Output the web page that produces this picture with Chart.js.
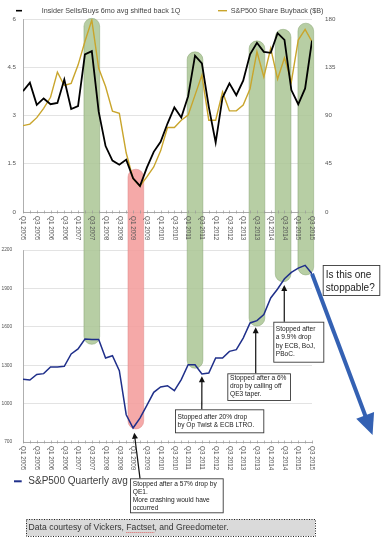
<!DOCTYPE html>
<html>
<head>
<meta charset="utf-8">
<script src="https://cdn.jsdelivr.net/npm/chart.js@4"></script>
<style>
html,body{margin:0;padding:0;background:#fff;}
#wrap{position:relative;width:383px;height:540px;overflow:hidden;background:#fff;}
canvas{position:absolute;left:0;}
#cA{top:0;}
#cB{top:240px;}
</style>
</head>
<body>
<div id="wrap">
<canvas id="cA" width="383" height="250"></canvas>
<canvas id="cB" width="383" height="300"></canvas>
</div>
<script>
// ---------------- DATA ----------------
const quarterLabels = ['Q1 2005','Q3 2005','Q1 2006','Q3 2006','Q1 2007','Q3 2007','Q1 2008','Q3 2008',
  'Q1 2009','Q3 2009','Q1 2010','Q3 2010','Q1 2011','Q3 2011','Q1 2012','Q3 2012','Q1 2013','Q3 2013',
  'Q1 2014','Q3 2014','Q1 2015','Q3 2015'];
// quarterly series, Q1 2005 .. Q3 2015 (43 quarters)
const insiderRatio = [3.76,4.02,3.33,3.53,3.35,3.39,4.12,3.20,3.29,4.90,5.00,3.12,2.05,1.60,1.47,1.63,1.05,0.81,1.38,1.87,
  2.18,2.75,3.25,2.94,3.60,4.86,4.62,3.27,2.16,3.56,4.00,3.63,4.08,4.90,5.26,4.98,4.95,5.56,5.35,3.79,3.35,3.84,5.33];
const buybackB = [80.5,82,88,96.7,107,130.5,118,120,137,159,179,134,117,94,92,55,31,24,32.7,42,
  57,78.8,78.8,85.6,90.3,109,127.7,85.6,85.6,112,94.3,94.3,99.7,115,149.5,126,152.6,124,143.8,121.4,160.4,170.4,158.8];
const sp500Avg = [1190,1184,1228,1234,1286,1286,1291,1388,1427,1505,1500,1500,1356,1374,1257,913,809,887,986,1088,
  1130,1140,1101,1187,1304,1304,1231,1239,1356,1356,1408,1421,1512,1630,1648,1695,1825,1895,1975,2025,2058,2080,2015];
const leftTicks = [0,1.5,3,4.5,6];
const rightTicks = [0,45,90,135,180];
const spTicks = [700,1000,1300,1600,1900,2200];
// highlight columns: quarter index, top (insider units), bottom (S&P units), kind
const hlQuarter = [10,16.4,25,34,37.8,41.1];
const hlTop = [6.02,1.33,4.98,5.32,5.68,5.87];
const hlBottom = [1463,802,1276,1606,1952,2005];
const hlKind = ['g','r','g','g','g','g'];
// callout targets (quarter index, S&P value)
const calloutTargetQ = [26,33.82,37.97,16.17];
const calloutTargetV = [1213,1596,1927,772];
const projectionEnd = {q:50.8, v:755};

// ---------------- STYLE ----------------
const FONT = "'Liberation Sans', Arial, Helvetica, sans-serif";
const GRID = '#dcdcdc', AXIS = '#9a9a9a', TXT = '#555';
const HL = {g:{fill:'rgba(170,197,148,0.85)',edge:'rgba(130,160,110,0.6)'}, r:{fill:'rgba(244,160,158,0.9)',edge:'rgba(220,130,130,0.6)'}};
const BAR_W = 15.7;
const OFFB = 240; // canvas B page offset

function xyData(arr){ return arr.map((v,i)=>({x:i,y:v})); }

function barPath(ctx, xc, yTop, yBot, roundTop, roundBot){
  const r = BAR_W/2;
  ctx.beginPath();
  if(roundTop){ ctx.moveTo(xc-r, yTop+r); ctx.arc(xc, yTop+r, r, Math.PI, 0); }
  else { ctx.moveTo(xc-r, yTop); ctx.lineTo(xc+r, yTop); }
  if(roundBot){ ctx.lineTo(xc+r, yBot-r); ctx.arc(xc, yBot-r, r, 0, Math.PI); }
  else { ctx.lineTo(xc+r, yBot); ctx.lineTo(xc-r, yBot); }
  ctx.closePath();
}
function barEdge(ctx, xc, yTop, yBot, roundTop, roundBot){
  const r = BAR_W/2;
  ctx.beginPath();
  // left side + ends, skipping cut edges
  if(roundTop){
    ctx.moveTo(xc-r, yBot - (roundBot? r:0));
    ctx.lineTo(xc-r, yTop+r); ctx.arc(xc, yTop+r, r, Math.PI, 0); ctx.lineTo(xc+r, yBot);
  } else {
    ctx.moveTo(xc-r, yTop); ctx.lineTo(xc-r, yBot-r); ctx.arc(xc, yBot-r, r, Math.PI, 0, true); ctx.lineTo(xc+r, yTop);
  }
}

function drawXLabels(ctx, xs, yAxis){
  ctx.save();
  ctx.fillStyle = TXT; ctx.font = '6.3px '+FONT;
  ctx.textAlign='left'; ctx.textBaseline='middle';
  quarterLabels.forEach((lab,k)=>{
    const x = xs.getPixelForValue(2*k);
    ctx.save(); ctx.translate(x, yAxis+4); ctx.rotate(Math.PI/2); ctx.fillText(lab,0,0); ctx.restore();
  });
  // small tick marks each quarter
  ctx.strokeStyle = AXIS; ctx.lineWidth = 0.7;
  for(let i=0;i<=42;i++){
    const x = Math.round(xs.getPixelForValue(i))+0.5;
    ctx.beginPath(); ctx.moveTo(x, yAxis-1.5); ctx.lineTo(x, yAxis+1.5); ctx.stroke();
  }
  ctx.restore();
}

function arrow(ctx,x1,y1,x2,y2,lw,hl,hw,color){
  const dx=x2-x1, dy=y2-y1, L=Math.hypot(dx,dy), ux=dx/L, uy=dy/L;
  const bx=x2-ux*hl, by=y2-uy*hl;
  ctx.save();
  ctx.strokeStyle=color; ctx.lineWidth=lw; ctx.lineCap='butt';
  ctx.beginPath(); ctx.moveTo(x1,y1); ctx.lineTo(bx+ux*1,by+uy*1); ctx.stroke();
  ctx.fillStyle=color; ctx.beginPath(); ctx.moveTo(x2,y2);
  ctx.lineTo(bx-uy*hw, by+ux*hw); ctx.lineTo(bx+uy*hw, by-ux*hw); ctx.closePath(); ctx.fill();
  ctx.restore();
}

function callout(ctx, x, y, w, h, lines, firstY, step, tx, fontPx){
  ctx.save();
  ctx.fillStyle='#fff'; ctx.fillRect(x,y,w,h);
  ctx.strokeStyle='#3a3a3a'; ctx.lineWidth=0.9; ctx.strokeRect(x+0.5,y+0.5,w,h);
  ctx.fillStyle='#222'; ctx.font=fontPx+'px '+FONT; ctx.textAlign='left'; ctx.textBaseline='middle';
  lines.forEach((l,i)=>ctx.fillText(l, tx, firstY+i*step));
  ctx.restore();
}

// ---------------- CHART A (top) ----------------
const pluginA = {
  id:'topDecor',
  beforeDatasetsDraw(chart){
    const ctx=chart.ctx, xs=chart.scales.x, ys=chart.scales.y;
    ctx.save();
    hlQuarter.forEach((q,k)=>{
      const xc=xs.getPixelForValue(q), yt=ys.getPixelForValue(hlTop[k]), yb=chart.height;
      const c=HL[hlKind[k]];
      barPath(ctx,xc,yt,yb,true,false); ctx.fillStyle=c.fill; ctx.fill();
      barEdge(ctx,xc,yt,yb,true,false); ctx.strokeStyle=c.edge; ctx.lineWidth=0.8; ctx.stroke();
    });
    ctx.restore();
  },
  afterDraw(chart){
    const ctx=chart.ctx, xs=chart.scales.x, ys=chart.scales.y, yr=chart.scales.y1;
    drawXLabels(ctx, xs, chart.chartArea.bottom);
    ctx.save();
    ctx.fillStyle=TXT; ctx.font='6.2px '+FONT; ctx.textBaseline='middle';
    ctx.textAlign='right';
    leftTicks.forEach(v=>ctx.fillText(String(v), 16, ys.getPixelForValue(v)));
    ctx.textAlign='left';
    rightTicks.forEach(v=>ctx.fillText(String(v), 325, yr.getPixelForValue(v)));
    // legend
    ctx.font='7.2px '+FONT; ctx.fillStyle='#444';
    ctx.strokeStyle='#000'; ctx.lineWidth=1.6;
    ctx.beginPath(); ctx.moveTo(16,10.7); ctx.lineTo(22,10.7); ctx.stroke();
    ctx.fillText('Insider Sells/Buys 6mo avg shifted back 1Q', 41.7, 10.7);
    ctx.strokeStyle='#c9a52c'; ctx.lineWidth=1.4;
    ctx.beginPath(); ctx.moveTo(218,10.7); ctx.lineTo(227,10.7); ctx.stroke();
    ctx.fillText('S&P500 Share Buyback ($B)', 230.7, 10.7);
    ctx.restore();
  }
};

new Chart(document.getElementById('cA'), {
  type:'line',
  data:{ datasets:[
    {label:'Insider Sells/Buys 6mo avg shifted back 1Q', data:xyData(insiderRatio), yAxisID:'y',
      borderColor:'#000', borderWidth:1.8, pointRadius:0, tension:0, fill:false},
    {label:'S&P500 Share Buyback ($B)', data:xyData(buybackB), yAxisID:'y1',
      borderColor:'#c9a52c', borderWidth:1.4, pointRadius:0, tension:0, fill:false}
  ]},
  options:{
    responsive:false, animation:false, devicePixelRatio:1,
    layout:{padding:{top:19,left:0,right:0,bottom:0}},
    plugins:{legend:{display:false}, tooltip:{enabled:false}},
    scales:{
      x:{type:'linear', min:0, max:42, ticks:{display:false, stepSize:1, maxTicksLimit:100},
         grid:{display:false}, border:{display:true, color:AXIS, width:0.8},
         afterFit(s){ s.height = 38; }},
      y:{position:'left', min:0, max:6, ticks:{display:false, stepSize:1.5},
         grid:{color:GRID, lineWidth:0.8, drawTicks:false}, border:{display:true, color:AXIS, width:0.8},
         afterFit(s){ s.width = 23; }},
      y1:{position:'right', min:0, max:180, ticks:{display:false, stepSize:45},
         grid:{display:false, drawTicks:false}, border:{display:false},
         afterFit(s){ s.width = 71; }}
    }
  },
  plugins:[pluginA]
});

// ---------------- CHART B (bottom) ----------------
const pluginB = {
  id:'bottomDecor',
  beforeDatasetsDraw(chart){
    const ctx=chart.ctx, xs=chart.scales.x, ys=chart.scales.y;
    ctx.save();
    hlQuarter.forEach((q,k)=>{
      const xc=xs.getPixelForValue(q), yt=250-OFFB, yb=ys.getPixelForValue(hlBottom[k]);
      const c=HL[hlKind[k]];
      barPath(ctx,xc,yt,yb,false,true); ctx.fillStyle=c.fill; ctx.fill();
      barEdge(ctx,xc,yt,yb,false,true); ctx.strokeStyle=c.edge; ctx.lineWidth=0.8; ctx.stroke();
    });
    ctx.restore();
  },
  afterDraw(chart){
    const ctx=chart.ctx, xs=chart.scales.x, ys=chart.scales.y;
    const P = y => y - OFFB;
    drawXLabels(ctx, xs, chart.chartArea.bottom);
    ctx.save();
    ctx.fillStyle=TXT; ctx.font='4.9px '+FONT; ctx.textBaseline='middle'; ctx.textAlign='right';
    spTicks.forEach(v=>ctx.fillText(String(v), 12.3, ys.getPixelForValue(v)));
    ctx.restore();

    // projection arrow
    const lastI = sp500Avg.length-1;
    arrow(ctx, xs.getPixelForValue(lastI), ys.getPixelForValue(sp500Avg[lastI]),
      xs.getPixelForValue(projectionEnd.q), ys.getPixelForValue(projectionEnd.v), 4, 21, 9.5, '#3461b3');

    // callouts
    callout(ctx,175,P(409.3),88.3,23,['Stopped after 20% drop','by Op Twist & ECB LTRO.'],P(416.7),8.3,177.5,6.6);
    arrow(ctx,201.8,P(409.3),xs.getPixelForValue(calloutTargetQ[0]),ys.getPixelForValue(calloutTargetV[0]),1.2,6,3,'#111');

    callout(ctx,227.3,P(373.3),62.7,26.7,['Stopped after a 6%','drop by calling off','QE3 taper.'],P(378),8.3,230,6.6);
    arrow(ctx,xs.getPixelForValue(calloutTargetQ[1]),P(373.3),xs.getPixelForValue(calloutTargetQ[1]),ys.getPixelForValue(calloutTargetV[1]),1.2,6,3,'#111');

    callout(ctx,273.3,P(321.7),50,40,['Stopped after','a 9.9% drop','by ECB, BoJ,','PBoC.'],P(329.3),8.3,275.8,6.6);
    arrow(ctx,xs.getPixelForValue(calloutTargetQ[2]),P(321.7),xs.getPixelForValue(calloutTargetQ[2]),ys.getPixelForValue(calloutTargetV[2]),1.2,6,3,'#111');

    callout(ctx,322.7,P(265),56.6,30,['Is this one','stoppable?'],P(275.5),12.3,325.8,10);

    callout(ctx,130,P(478.3),92.7,34,['Stopped after a 57% drop by','QE1.','More crashing would have','occurred'],P(484.2),8.1,132.8,6.6);
    arrow(ctx,140,P(478.3),xs.getPixelForValue(calloutTargetQ[3]),ys.getPixelForValue(calloutTargetV[3]),1.2,6,3,'#111');

    // legend
    ctx.save();
    ctx.strokeStyle='#1f2f8a'; ctx.lineWidth=2;
    ctx.beginPath(); ctx.moveTo(14,P(481.3)); ctx.lineTo(21.7,P(481.3)); ctx.stroke();
    ctx.fillStyle='#3c3c3c'; ctx.font='10px '+FONT; ctx.textAlign='left'; ctx.textBaseline='middle';
    ctx.fillText('S&P500 Quarterly avg', 28.3, P(481.5));
    ctx.restore();

    // source box
    ctx.save();
    ctx.fillStyle='#dadada'; ctx.fillRect(26,P(519),289,17);
    ctx.strokeStyle='#222'; ctx.lineWidth=1; ctx.setLineDash([1,1.5]);
    ctx.strokeRect(26.5,P(519)+0.5,289,17);
    ctx.setLineDash([]);
    ctx.fillStyle='#333'; ctx.font='8.6px '+FONT; ctx.textAlign='left'; ctx.textBaseline='middle';
    const pre='Data courtesy of Vickers, ';
    ctx.fillText('Data courtesy of Vickers, Factset, and Greedometer.', 28.6, P(528));
    const fx = 28.6 + ctx.measureText(pre).width, fw = ctx.measureText('Factset').width;
    ctx.strokeStyle='#e04040'; ctx.lineWidth=0.8; ctx.setLineDash([1,1]);
    ctx.beginPath(); ctx.moveTo(fx,P(532.5)); ctx.lineTo(fx+fw,P(532.5)); ctx.stroke();
    ctx.restore();
  }
};

new Chart(document.getElementById('cB'), {
  type:'line',
  data:{ datasets:[
    {label:'S&P500 Quarterly avg', data:xyData(sp500Avg), yAxisID:'y',
      borderColor:'#1f2f8a', borderWidth:1.5, pointRadius:0, tension:0, fill:false}
  ]},
  options:{
    responsive:false, animation:false, devicePixelRatio:1,
    layout:{padding:{top:10,left:0,right:71,bottom:0}},
    plugins:{legend:{display:false}, tooltip:{enabled:false}},
    scales:{
      x:{type:'linear', min:0, max:42, ticks:{display:false, stepSize:1, maxTicksLimit:100},
         grid:{display:false}, border:{display:true, color:AXIS, width:0.8},
         afterFit(s){ s.height = 98; }},
      y:{position:'left', min:700, max:2200, ticks:{display:false, stepSize:300},
         grid:{color:GRID, lineWidth:0.8, drawTicks:false}, border:{display:true, color:AXIS, width:0.8},
         afterFit(s){ s.width = 23; }}
    }
  },
  plugins:[pluginB]
});
</script>
</body>
</html>
